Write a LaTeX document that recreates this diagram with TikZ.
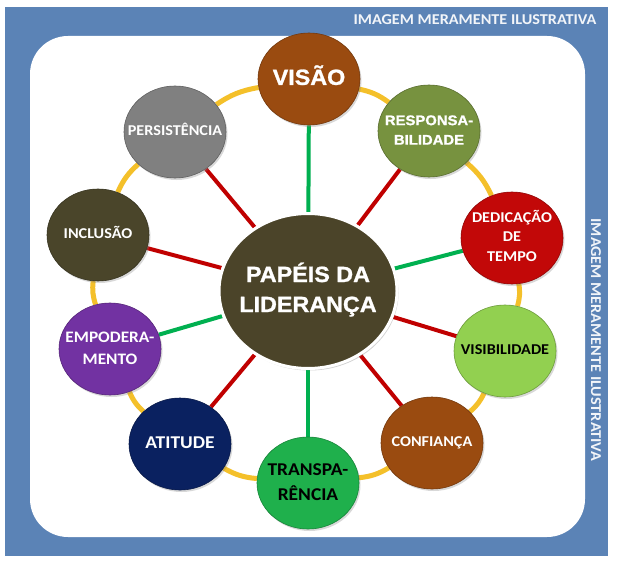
\documentclass[tikz,border=0pt]{standalone}
\usepackage{fontspec}
\usetikzlibrary{shapes.geometric}
\usetikzlibrary{shadows}

\newfontfamily\calfont[FakeStretch=1.08]{Carlito}
\newfontfamily\arfont[FakeStretch=1.06,FakeBold=1.2]{Liberation Sans Bold}

\definecolor{bgblue}{HTML}{5B83B6}
\definecolor{ringgold}{HTML}{F4C02A}
\definecolor{spokered}{HTML}{C00000}
\definecolor{spokegreen}{HTML}{00B050}
\definecolor{visaocol}{HTML}{9A4B10}
\definecolor{respcol}{HTML}{77923F}
\definecolor{dedcol}{HTML}{C20808}
\definecolor{visibcol}{HTML}{92D050}
\definecolor{confcol}{HTML}{9A4B10}
\definecolor{transpcol}{HTML}{1FB04C}
\definecolor{atitcol}{HTML}{0A2160}
\definecolor{empcol}{HTML}{7232A2}
\definecolor{inclcol}{HTML}{4A452A}
\definecolor{perscol}{HTML}{808080}
\definecolor{centercol}{HTML}{4B4429}

% text box that does not widen the ellipse round it
\newcommand\rolebox[1]{\makebox[0pt]{\begin{tabular}{@{}c@{}}#1\end{tabular}}}

\pgfdeclarelayer{frame}
\pgfdeclarelayer{links}
\pgfsetlayers{frame,links,main}

\begin{document}
\begin{tikzpicture}[x=1pt,y=-1pt,
	role/.style={ellipse,minimum width=102pt,minimum height=92pt,inner sep=0pt,
		text=white,fill=#1,draw=#1!75!black,line width=0.6pt,
		drop shadow={opacity=0.3,shadow xshift=1.5pt,shadow yshift=-2pt}},
	small/.style={font=\calfont\bfseries\fontsize{15}{19.5}\selectfont},
	spoke/.style={line width=4pt},
	ring/.style={line width=5pt,ringgold},
	stamp/.style={font=\calfont\bfseries\fontsize{15}{18}\selectfont,text=white!92!bgblue}]
	\useasboundingbox (0,0) rectangle (617,564);
	\begin{pgfonlayer}{frame}
		\fill[bgblue] (5,7) rectangle (608,556);
		\fill[white,rounded corners=38pt] (30,36) rectangle (585,537);
	\end{pgfonlayer}

	\node[stamp] (stamptop) at (475,20) {IMAGEM MERAMENTE ILUSTRATIVA};
	\node[stamp,rotate=-90] (stampside) at (596,340) {IMAGEM MERAMENTE ILUSTRATIVA};

	% centre
	\node[ellipse,minimum width=178pt,minimum height=155pt,inner sep=0pt,fill=centercol,draw=white,line width=3pt,
		text=white,font=\arfont\fontsize{22}{30}\selectfont,
		drop shadow={opacity=0.35,shadow xshift=1.5pt,shadow yshift=-2pt}]
		(lider) at (308,291) {\rolebox{PAPÉIS DA\\LIDERANÇA}};

	% roles, clockwise from the top
	\node[role=visaocol,font=\arfont\fontsize{22}{26}\selectfont] (visao) at (309,79) {\rolebox{VISÃO}};
	\node[role=respcol,font=\arfont\fontsize{14}{19.5}\selectfont] (resp) at (429,131) {\rolebox{RESPONSA-\\BILIDADE}};
	\node[role=dedcol,small] (dedic) at (512,238) {\rolebox{DEDICAÇÃO\\DE\\TEMPO}};
	\node[role=visibcol,small,text=black] (visib) at (505,351) {\rolebox{VISIBILIDADE}};
	\node[role=confcol,small] (confi) at (432,443) {\rolebox{CONFIANÇA}};
	\node[role=transpcol,text=black,font=\calfont\bfseries\fontsize{18}{25}\selectfont] (transp) at (308,483) {\rolebox{TRANSPA-\\RÊNCIA}};
	\node[role=atitcol,font=\calfont\bfseries\fontsize{18}{22}\selectfont] (atit) at (180,444) {\rolebox{ATITUDE}};
	\node[role=empcol,font=\calfont\bfseries\fontsize{16}{22}\selectfont] (empod) at (110,349) {\rolebox{EMPODERA-\\MENTO}};
	\node[role=inclcol,small] (inclu) at (98,235) {\rolebox{INCLUSÃO}};
	\node[role=perscol,small] (persis) at (175,132) {\rolebox{PERSISTÊNCIA}};

	\begin{pgfonlayer}{links}
		\foreach \a/\b in {visao/resp,resp/dedic,dedic/visib,visib/confi,confi/transp,
			transp/atit,atit/empod,empod/inclu,inclu/persis,persis/visao}
			\draw[ring] (\a) to[bend left=12] (\b);
		\foreach \n/\c in {visao/spokegreen,resp/spokered,dedic/spokegreen,visib/spokered,
			confi/spokered,transp/spokegreen,atit/spokered,empod/spokegreen,inclu/spokered,persis/spokered}
			\draw[spoke,\c] (lider) -- (\n);
	\end{pgfonlayer}
\end{tikzpicture}
\end{document}
